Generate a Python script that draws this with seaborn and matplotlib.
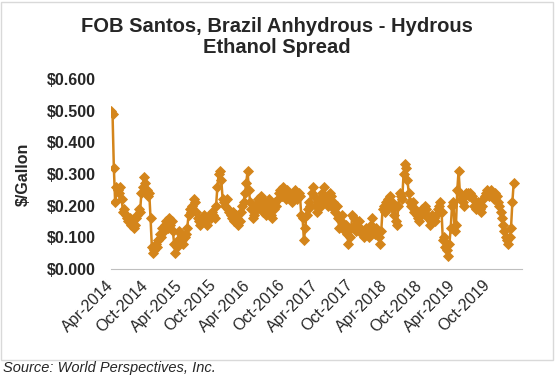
import pandas as pd
import matplotlib
matplotlib.use("Agg")
import matplotlib.pyplot as plt
from matplotlib.patches import Rectangle
import seaborn as sns

# weekly anhydrous - hydrous spread ($/gallon), one list per 52 weeks
spread_wk_0_51 = [
    0.50, 0.49, 0.32, 0.21, 0.26, 0.25, 0.24, 0.26, 0.22, 0.18,
    0.19, 0.17, 0.16, 0.15, 0.16, 0.14, 0.15, 0.13, 0.14, 0.16,
    0.17, 0.19, 0.18, 0.24, 0.26, 0.29, 0.27, 0.25, 0.23, 0.24,
    0.16, 0.07, 0.05, 0.06, 0.08, 0.07, 0.09, 0.11, 0.10, 0.13,
    0.12, 0.14, 0.15, 0.13, 0.16, 0.14, 0.15, 0.12, 0.08, 0.05,
    0.07, 0.09,
]
spread_wk_52_103 = [
    0.12, 0.11, 0.09, 0.08, 0.10, 0.11, 0.13, 0.17, 0.19, 0.18,
    0.20, 0.22, 0.21, 0.18, 0.16, 0.15, 0.14, 0.16, 0.15, 0.17,
    0.16, 0.14, 0.16, 0.17, 0.16, 0.18, 0.17, 0.16, 0.20, 0.26,
    0.30, 0.31, 0.28, 0.22, 0.21, 0.20, 0.22, 0.19, 0.18, 0.17,
    0.16, 0.18, 0.15, 0.17, 0.16, 0.14, 0.15, 0.18, 0.20, 0.21,
    0.24, 0.27,
]
spread_wk_104_155 = [
    0.31, 0.25, 0.21, 0.19, 0.16, 0.17, 0.20, 0.19, 0.22, 0.21,
    0.23, 0.20, 0.18, 0.21, 0.17, 0.19, 0.22, 0.20, 0.17, 0.16,
    0.19, 0.21, 0.20, 0.22, 0.24, 0.25, 0.23, 0.26, 0.24, 0.22,
    0.25, 0.23, 0.24, 0.22, 0.21, 0.23, 0.25, 0.24, 0.22, 0.24,
    0.23, 0.17, 0.16, 0.09, 0.13, 0.17, 0.19, 0.21, 0.20, 0.24,
    0.26, 0.23,
]
spread_wk_156_207 = [
    0.20, 0.18, 0.21, 0.22, 0.20, 0.24, 0.26, 0.23, 0.21, 0.20,
    0.22, 0.24, 0.23, 0.21, 0.19, 0.18, 0.20, 0.16, 0.13, 0.15,
    0.17, 0.13, 0.12, 0.14, 0.11, 0.08, 0.10, 0.13, 0.17, 0.16,
    0.14, 0.12, 0.13, 0.15, 0.13, 0.11, 0.12, 0.10, 0.13, 0.11,
    0.12, 0.10, 0.14, 0.16, 0.12, 0.11, 0.13, 0.12, 0.10, 0.08,
    0.12, 0.19,
]
spread_wk_208_259 = [
    0.20, 0.18, 0.21, 0.22, 0.20, 0.23, 0.21, 0.19, 0.17, 0.15,
    0.14, 0.20, 0.24, 0.23, 0.22, 0.30, 0.33, 0.32, 0.28, 0.24,
    0.21, 0.20, 0.21, 0.18, 0.19, 0.17, 0.16, 0.15, 0.17, 0.19,
    0.18, 0.20, 0.19, 0.17, 0.16, 0.14, 0.15, 0.17, 0.16, 0.15,
    0.17, 0.19, 0.20, 0.21, 0.18, 0.09, 0.10, 0.07, 0.06, 0.04,
    0.08, 0.13,
]
spread_wk_260_307 = [
    0.20, 0.21, 0.12, 0.14, 0.25, 0.31, 0.24, 0.22, 0.21, 0.20,
    0.23, 0.24, 0.24, 0.23, 0.24, 0.23, 0.22, 0.20, 0.19, 0.20,
    0.21, 0.19, 0.18, 0.20, 0.22, 0.23, 0.24, 0.25, 0.23, 0.24,
    0.25, 0.23, 0.22, 0.24, 0.23, 0.21, 0.20, 0.18, 0.16, 0.14,
    0.12, 0.10, 0.09, 0.08, 0.10, 0.13, 0.21, 0.27,
]
first_week = "2014-04-01"

tick_dates = [
    "2014-04-01", "2014-10-01", "2015-04-01", "2015-10-01", "2016-04-01",
    "2016-10-01", "2017-04-01", "2017-10-01", "2018-04-01", "2018-10-01",
    "2019-04-01", "2019-10-01", "2020-04-01",
]
tick_labels = [
    "Apr-2014", "Oct-2014", "Apr-2015", "Oct-2015", "Apr-2016", "Oct-2016",
    "Apr-2017", "Oct-2017", "Apr-2018", "Oct-2018", "Apr-2019", "Oct-2019", "",
]
y_ticks = [0.0, 0.1, 0.2, 0.3, 0.4, 0.5, 0.6]

orange = "#D4851B"

values = (spread_wk_0_51 + spread_wk_52_103 + spread_wk_104_155
          + spread_wk_156_207 + spread_wk_208_259 + spread_wk_260_307)
df = pd.DataFrame({
    "Date": pd.date_range(first_week, periods=len(values), freq="7D"),
    "Spread": values,
})

sns.set_style("white")
plt.rcParams["font.family"] = ["Liberation Sans", "DejaVu Sans"]

fig = plt.figure(figsize=(5.55, 3.78), dpi=100)
ax = fig.add_axes([0.2004, 0.2884, 0.7396, 0.5026])

sns.lineplot(data=df, x="Date", y="Spread", color=orange, linewidth=1.8,
             marker="D", markersize=5.2, markeredgecolor=orange,
             markeredgewidth=0.6, ax=ax)

ax.set_xlim(pd.Timestamp(tick_dates[0]), pd.Timestamp(tick_dates[-1]))
ax.set_ylim(0, 0.6)
ax.set_xticks(pd.to_datetime(tick_dates))
ax.set_xticklabels(tick_labels, rotation=45, ha="right", va="center",
                   rotation_mode="anchor", fontsize=11.5)
ax.set_yticks(y_ticks)
ax.set_yticklabels([f"${v:.3f}" for v in y_ticks], fontsize=11.5, fontweight="bold")
ax.set_xlabel("")
ax.set_ylabel("")

for side in ["left", "top", "right"]:
    ax.spines[side].set_visible(False)
ax.spines["bottom"].set_color("#BFBFBF")
ax.spines["bottom"].set_linewidth(0.8)
ax.tick_params(axis="x", direction="out", length=4, width=0.8, color="#BFBFBF", pad=6)
ax.tick_params(axis="y", length=0, pad=11)

fig.text(0.042, 0.54, "$/Gallon", rotation=90, ha="center", va="center",
         fontsize=11.5, fontweight="bold")
fig.text(0.499, 1 - 37 / 378, "FOB Santos, Brazil Anhydrous - Hydrous\nEthanol Spread",
         ha="center", va="center", fontsize=14.5, fontweight="bold", linespacing=1.15)
fig.text(0.006, 1 - 368 / 378, "Source: World Perspectives, Inc.", style="italic",
         ha="left", va="center", fontsize=10.5)

fig.patches.append(Rectangle((1 / 555, 1 - 360 / 378), 552 / 555, 358 / 378,
                             transform=fig.transFigure, fill=False,
                             edgecolor="#D9D9D9", linewidth=1))

fig.savefig("out.png", dpi=100)
